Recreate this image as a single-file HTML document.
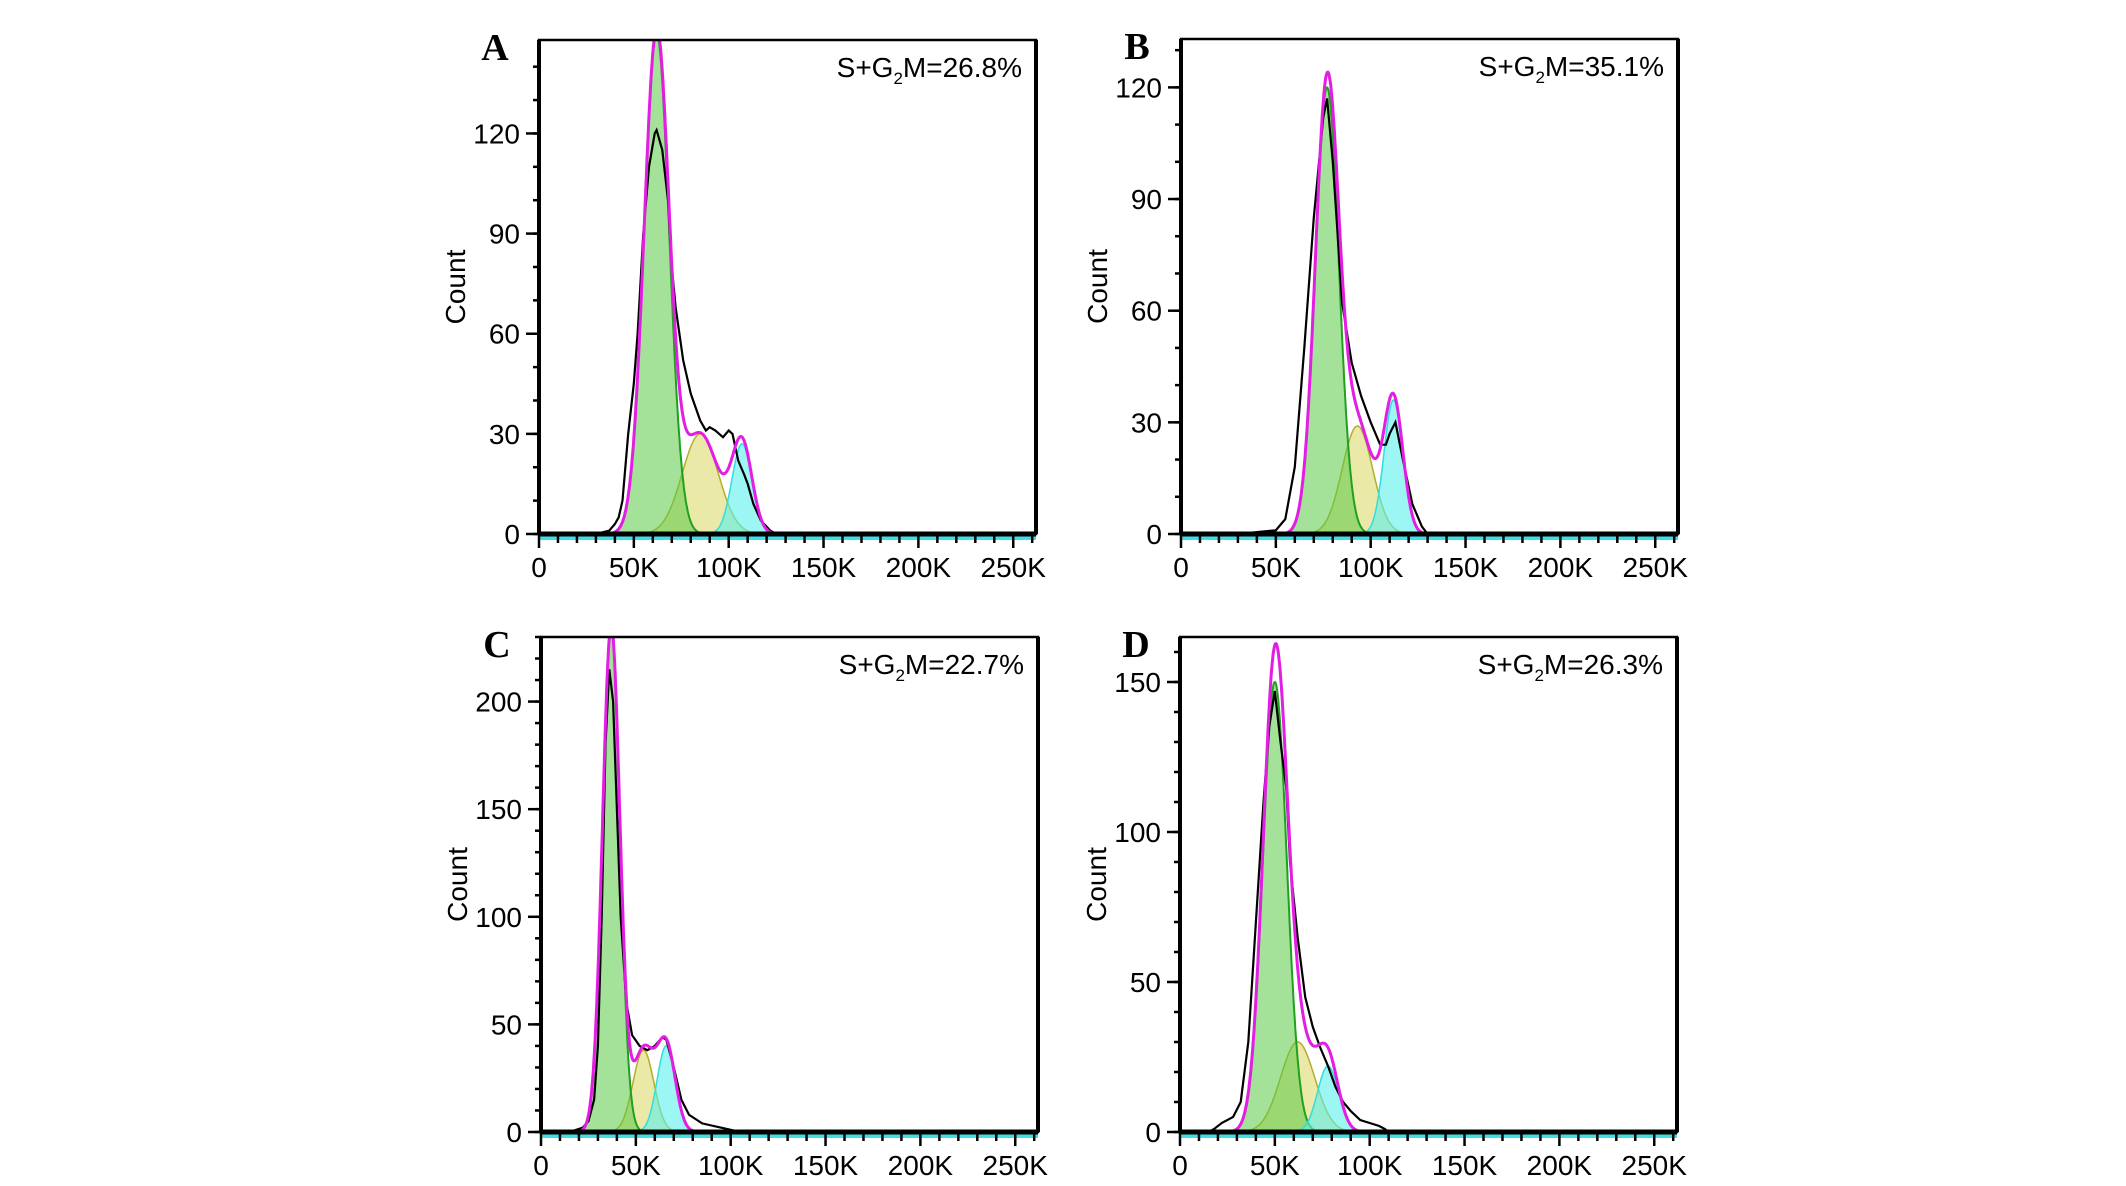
<!DOCTYPE html>
<html><head><meta charset="utf-8"><style>
html,body{margin:0;padding:0;background:#fff;}
svg{display:block;}
text{font-family:"Liberation Sans",sans-serif;}
</style></head><body>
<svg id="fig" width="2126" height="1186" xmlns="http://www.w3.org/2000/svg"></svg>
<script>
// ---- data (x in K units) ----
const panelLetters = ["A","B","C","D"];
const panelLabels = ["26.8%","35.1%","22.7%","26.3%"];
const yMaxes = [148, 133, 230, 165];
const yMajorTicks = [[0,30,60,90,120],[0,30,60,90,120],[0,50,100,150,200],[0,50,100,150]];
const xTickLabels = ["0","50K","100K","150K","200K","250K"];
const xTickValues = [0,50,100,150,200,250];
// fitted components: [center K, height, sigma K]
const g1Fit = [[62,150,6.6],[77,120,6.2],[37,235,4.6],[50,150,6.3]];
const sFit  = [[85,30,9.5],[93,29,8],[54,38,5.5],[62,30,9]];
const g2Fit = [[107,27,5.3],[112,36,5],[66,40,4.8],[78,22,5.5]];
// measured histograms
const histXA = [30,37,40,42,44,47,50,52,55,58,61,62,65,68,70,72,76,80,85,88,90,93,95,97,100,102,105,108,110,113,117,122,125,262];
const histYA = [0,1,3,5,10,30,45,60,90,110,120,121,115,100,80,68,52,42,34,31,32,31,30,29,31,30,22,18,15,9,4,1,0,0];
const histXB = [30,50,55,60,65,70,75,77,80,85,90,95,100,105,108,110,113,117,122,127,130,262];
const histYB = [0,1,4,18,50,85,112,117,100,62,46,37,30,24,24,27,30,20,8,2,0,0];
const histXC = [15,22,25,28,30,32,34,36,38,40,42,45,48,52,56,60,64,66,70,74,78,85,95,100,105,262];
const histYC = [0,2,5,15,40,100,180,215,200,150,100,60,45,40,38,40,44,43,30,15,8,4,2,1,0,0];
const histXD = [10,15,18,22,28,32,36,40,44,47,50,53,56,58,62,66,70,74,78,82,86,90,95,100,105,108,110,262];
const histYD = [0,0,1,3,5,10,30,70,110,135,147,130,115,90,65,45,35,28,22,15,10,7,4,3,2,1,0,0];
const histXs = [histXA,histXB,histXC,histXD];
const histYs = [histYA,histYB,histYC,histYD];

// ---- layout ----
const boxes = [[539,40,1036,534],[1181,39,1678,534],[541,637,1038,1132],[1180,637,1677,1132]];
const XMAX = 262;
const NS = "http://www.w3.org/2000/svg";
const svg = document.getElementById("fig");
function mk(tag, attrs, parent){const e=document.createElementNS(NS,tag);for(const k in attrs)e.setAttribute(k,attrs[k]);(parent||svg).appendChild(e);return e;}
function gauss(p,x){return p[1]*Math.exp(-0.5*Math.pow((x-p[0])/p[2],2));}

for(let i=0;i<4;i++){
  const [L,T,R,B]=boxes[i];
  const xs = v => L + (v/XMAX)*(R-L);
  const ys = v => B - (v/yMaxes[i])*(B-T);
  const g = mk("g",{});
  
  
  const clip = mk("clipPath",{id:"clip"+i},g);
  mk("rect",{x:L,y:T,width:R-L,height:B-T},clip);
  const plot = mk("g",{"clip-path":"url(#clip"+i+")"},g);
  
  
  function compPath(p){
    let d="M"+xs(p[0]-4*p[2])+","+ys(0);
    for(let x=p[0]-4*p[2];x<=p[0]+4*p[2];x+=0.25) d+=" L"+xs(x).toFixed(1)+","+ys(gauss(p,x)).toFixed(1);
    d+=" L"+xs(p[0]+4*p[2])+","+ys(0)+" Z";return d;
  }
  const sEl = mk("path",{d:compPath(sFit[i]),fill:"rgba(222,218,110,0.6)",stroke:"#b5ad2a","stroke-width":1.5},plot);
  
  
  const g1El = mk("path",{d:compPath(g1Fit[i]),fill:"rgba(90,200,70,0.55)",stroke:"#1fa01f","stroke-width":2},plot);
  
  
  const g2El = mk("path",{d:compPath(g2Fit[i]),fill:"rgba(90,240,235,0.6)",stroke:"#30dde0","stroke-width":1.5},plot);
  
  
  // histogram
  const hx=histXs[i], hy=histYs[i];
  let d="M"+xs(0)+","+ys(0)+" L"+xs(hx[0])+","+ys(hy[0]);
  for(let k=1;k<hx.length;k++) d+=" L"+xs(hx[k]).toFixed(1)+","+ys(hy[k]).toFixed(1);
  const hEl = mk("path",{d:d,fill:"none",stroke:"#000","stroke-width":2.2},plot);
  
  
  // total fit
  let lo=Math.min(g1Fit[i][0]-4*g1Fit[i][2],sFit[i][0]-4*sFit[i][2]), hi=Math.max(g2Fit[i][0]+4*g2Fit[i][2],sFit[i][0]+4*sFit[i][2]);
  let dm="M"+xs(lo)+","+ys(0);
  for(let x=lo;x<=hi;x+=0.25){const v=gauss(g1Fit[i],x)+gauss(sFit[i],x)+gauss(g2Fit[i],x);dm+=" L"+xs(x).toFixed(1)+","+ys(v).toFixed(1);}
  const mEl = mk("path",{d:dm,fill:"none",stroke:"#e31ee3","stroke-width":3},plot);
  
  
  // baselines
  const cy = mk("line",{x1:L,y1:B+4,x2:R,y2:B+4,stroke:"#3de0e8","stroke-width":4},g);
  
  
  const frame = mk("rect",{x:L,y:T,width:R-L,height:B-T,fill:"none",stroke:"#000","stroke-width":2.5},g);
  
  
  mk("line",{x1:L,y1:T,x2:L,y2:B,stroke:"#000","stroke-width":4},g);
  mk("line",{x1:L,y1:B,x2:R,y2:B,stroke:"#000","stroke-width":5},g);
  mk("line",{x1:R,y1:T,x2:R,y2:B,stroke:"#000","stroke-width":4},g);
  // x ticks
  for(let v=0;v<=XMAX;v+=10){
    const major = v%50===0;
    mk("line",{x1:xs(v),y1:B,x2:xs(v),y2:B+(major?14:9),stroke:"#000","stroke-width":2.5},g);
  }
  for(let k=0;k<xTickValues.length;k++){
    const t = mk("text",{x:xs(xTickValues[k]),y:B+43,"text-anchor":"middle","font-size":28},g);
    t.textContent = xTickLabels[k];
    
    
  }
  // y ticks
  for(let v=0;v<=yMaxes[i];v+=10){
    mk("line",{x1:L,y1:ys(v),x2:L-6,y2:ys(v),stroke:"#000","stroke-width":2.5},g);
  }
  for(const v of yMajorTicks[i]){
    mk("line",{x1:L,y1:ys(v),x2:L-13,y2:ys(v),stroke:"#000","stroke-width":2.5},g);
    const t = mk("text",{x:L-19,y:ys(v)+10,"text-anchor":"end","font-size":28},g);
    t.textContent = String(v);
    
    
  }
  const yl = mk("text",{x:0,y:0,"text-anchor":"middle","font-size":28,transform:"translate("+(L-74)+","+((T+B)/2)+") rotate(-90)"},g);
  yl.textContent = "Count";
  
  
  const lt = mk("text",{x:L-44,y:T+20,"text-anchor":"middle","font-size":38,"font-weight":"bold",style:"font-family:'Liberation Serif',serif"},g);
  lt.textContent = panelLetters[i];
  
  
  const an = mk("text",{x:R-14,y:T+37,"text-anchor":"end","font-size":28},g);
  
  
  const t1 = mk("tspan",{},an); t1.textContent="S+G";
  const t2 = mk("tspan",{"font-size":17,dy:7}); an.appendChild(t2); t2.textContent="2";
  const t3 = mk("tspan",{dy:-7}); an.appendChild(t3); t3.textContent="M="+panelLabels[i];
}
</script>
</body></html>
